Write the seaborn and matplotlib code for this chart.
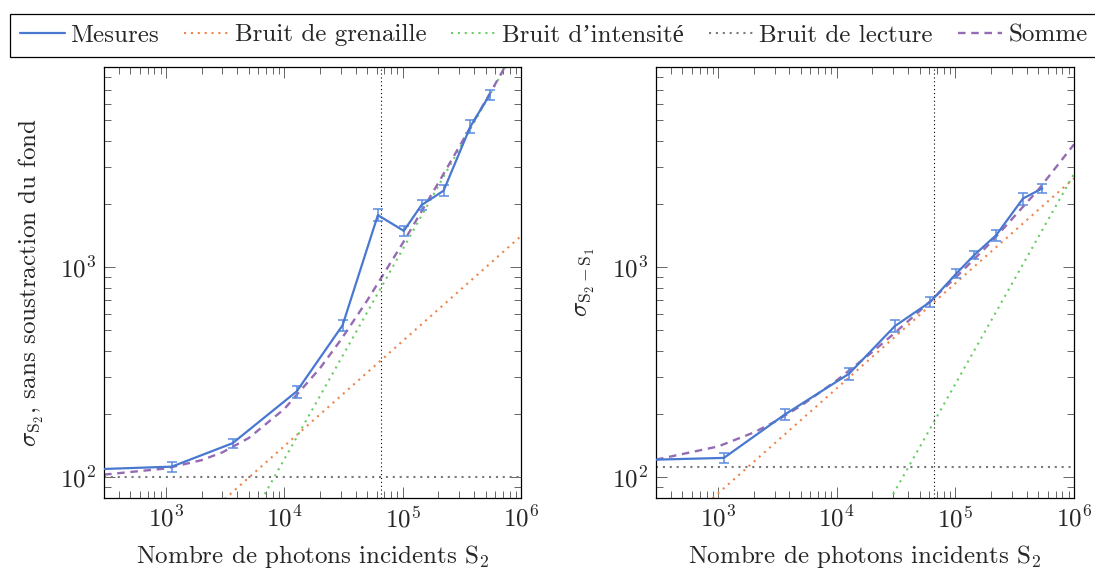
import matplotlib
matplotlib.use("Agg")
import matplotlib.pyplot as plt
from matplotlib.ticker import NullFormatter
import seaborn as sns

sns.set_style("ticks")
plt.rcParams["font.family"] = ["cmr10", "Liberation Serif", "DejaVu Serif"]
plt.rcParams["mathtext.fontset"] = "cm"
plt.rcParams["axes.unicode_minus"] = False
plt.rcParams["axes.formatter.use_mathtext"] = True

# mesures (nombre de photons incidents S2)
photons = [100, 1120, 3650, 12700, 31000, 61600, 102000, 144000, 221000, 372000, 541000]
sigma_brut = [107.3, 112.4, 145.3, 256.3, 529, 1770, 1489, 1976, 2312, 4669, 6610]
err_brut = [5, 6.4, 7.6, 17, 34, 113, 78, 112, 139, 327, 335]
sigma_diff = [119.5, 123.7, 199, 311, 525, 684, 933, 1141, 1421, 2124, 2372]
err_diff = [6, 7, 12, 21, 36, 41, 47, 47, 85, 141, 111]

# modeles de bruit
x_modele = [300, 1e6]
grenaille_brut = [24.4, 1410]
intensite_brut = [3.66, 12200]
lecture_brut = [100, 100]
grenaille_diff = [45.9, 2650]
intensite_diff = [0.834, 2780]
lecture_diff = [112.4, 112.4]

x_somme = [300, 1e3, 2e3, 3e3, 5e3, 1e4, 2e4, 3e4, 5e4, 1e5, 2e5, 5e5, 1e6]
somme_brut = [103.0, 110.2, 120.7, 131.5, 153.8, 211.6, 330.6, 451.2, 693.9, 1302.8, 2522, 6182, 12282]
somme_diff = [121.4, 140.2, 163.4, 183.8, 219.0, 289.2, 395.2, 479.9, 618.9, 890.0, 1313.9, 2335.8, 3842.3]

seuil = 6.6e4

x_ticks = [1e3, 1e4, 1e5, 1e6]
x_labels = [r"$10^{3}$", r"$10^{4}$", r"$10^{5}$", r"$10^{6}$"]
y_ticks = [1e2, 1e3]
y_labels = [r"$10^{2}$", r"$10^{3}$"]

noms = ["Mesures", "Bruit de grenaille", "Bruit d’intensité", "Bruit de lecture", "Somme"]
ylabels = [r"$\sigma_{\mathrm{S}_2}$, sans soustraction du fond",
           r"$\sigma_{\mathrm{S}_2-\mathrm{S}_1}$"]

pal = sns.color_palette("muted")
c_bleu, c_orange, c_vert, c_violet = pal[0], pal[1], pal[2], pal[4]
c_gris = "#797979"
fs = 18

fig = plt.figure(figsize=(10.95, 5.71), dpi=100)
ax1 = fig.add_axes([0.0950, 0.1284, 0.3810, 0.7548])
ax2 = fig.add_axes([0.5991, 0.1284, 0.3817, 0.7548])

pointille = (0, (1, 2.3))
panneaux = [
    (ax1, sigma_brut, err_brut, grenaille_brut, intensite_brut, lecture_brut, somme_brut, ylabels[0]),
    (ax2, sigma_diff, err_diff, grenaille_diff, intensite_diff, lecture_diff, somme_diff, ylabels[1]),
]

for ax, sig, err, gren, inten, lect, somme, ylab in panneaux:
    ax.set_xscale("log")
    ax.set_yscale("log")
    sns.lineplot(x=x_modele, y=gren, ax=ax, color=c_orange, lw=1.5, linestyle=pointille,
                 label=noms[1], legend=False)
    sns.lineplot(x=x_modele, y=inten, ax=ax, color=c_vert, lw=1.5, linestyle=pointille,
                 label=noms[2], legend=False)
    sns.lineplot(x=x_modele, y=lect, ax=ax, color=c_gris, lw=1.5, linestyle=pointille,
                 label=noms[3], legend=False)
    sns.lineplot(x=x_somme, y=somme, ax=ax, color=c_violet, lw=1.7, linestyle=(0, (3.2, 2.4)),
                 label=noms[4], legend=False)
    ax.axvline(seuil, color="black", lw=0.8, linestyle=(0, (1, 2.5)))
    ax.errorbar(photons, sig, yerr=err, fmt="none", ecolor="#5b8be0", elinewidth=1.1,
                capsize=3.4, capthick=1.1, zorder=4)
    sns.lineplot(x=photons, y=sig, ax=ax, color=c_bleu, lw=1.6, label=noms[0],
                 legend=False, zorder=5)

    ax.set_xlim(300, 1e6)
    ax.set_ylim(80, 9000)
    ax.set_xticks(x_ticks, labels=x_labels)
    ax.set_yticks(y_ticks, labels=y_labels)
    ax.xaxis.set_minor_formatter(NullFormatter())
    ax.yaxis.set_minor_formatter(NullFormatter())
    ax.tick_params(which="both", direction="in", top=True, right=True,
                   color="0.4", width=0.7, labelsize=fs)
    ax.tick_params(which="major", length=8, pad=6)
    ax.tick_params(which="minor", length=5)
    for sp in ax.spines.values():
        sp.set_color("black")
        sp.set_linewidth(0.9)
    ax.set_xlabel(r"Nombre de photons incidents $\mathrm{S}_2$", fontsize=fs)
    ax.set_ylabel(ylab, fontsize=fs)
    ax.xaxis.set_label_coords(0.5, -0.106)
    ax.yaxis.set_label_coords(-0.14, 0.5)

h, l = ax1.get_legend_handles_labels()
ordre = [l.index(n) for n in noms]
leg = fig.legend([h[i] for i in ordre], [l[i] for i in ordre], loc="upper left",
                 bbox_to_anchor=(10 / 1095, 1 - 14 / 571), ncol=5, fontsize=fs,
                 frameon=True, fancybox=False, edgecolor="black", framealpha=1,
                 borderpad=0.4, handlelength=1.78, handletextpad=0.24,
                 columnspacing=1.0, borderaxespad=0)
leg.get_frame().set_linewidth(0.9)

fig.savefig("out.png", dpi=100)
